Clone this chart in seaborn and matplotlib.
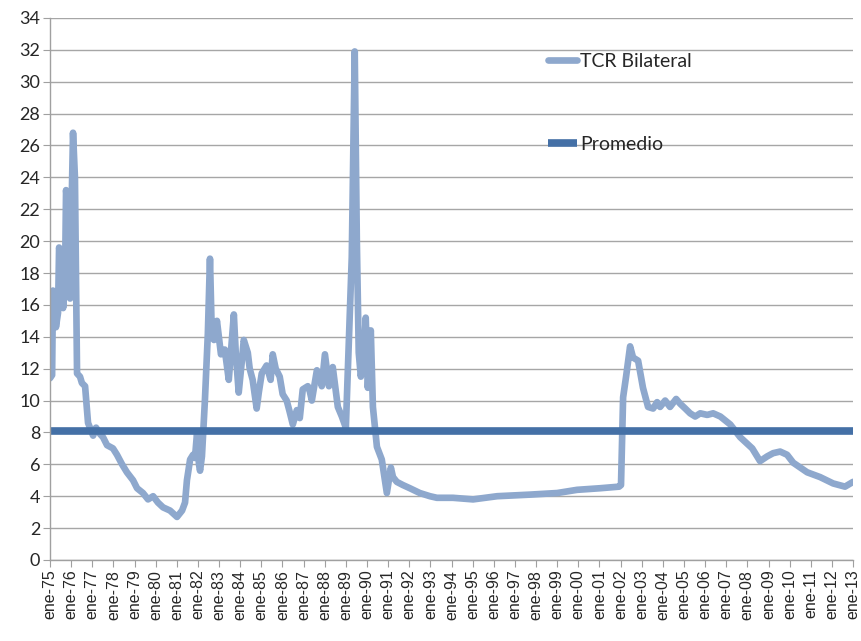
import numpy as np
import pandas as pd
import matplotlib
matplotlib.use("Agg")
import matplotlib.pyplot as plt
import seaborn as sns

anio = [1975.00, 1975.10, 1975.14, 1975.24, 1975.28, 1975.38, 1975.43, 1975.52,
        1975.62, 1975.71, 1975.76, 1975.85, 1975.95, 1975.99, 1976.09, 1976.18,
        1976.28, 1976.42, 1976.51, 1976.66, 1976.80, 1977.04, 1977.18, 1977.37,
        1977.51, 1977.70, 1977.98, 1978.17, 1978.41, 1978.64, 1978.93, 1979.12,
        1979.40, 1979.64, 1979.88, 1980.11, 1980.35, 1980.68, 1981.01, 1981.25,
        1981.39, 1981.48, 1981.63, 1981.77, 1981.86, 1981.96, 1982.05, 1982.10,
        1982.19, 1982.33, 1982.47, 1982.57, 1982.66, 1982.76, 1982.90, 1982.99,
        1983.09, 1983.27, 1983.46, 1983.56, 1983.70, 1983.79, 1983.93, 1984.08,
        1984.17, 1984.36, 1984.45, 1984.59, 1984.78, 1984.88, 1985.02, 1985.25,
        1985.44, 1985.54, 1985.68, 1985.87, 1986.01, 1986.20, 1986.34, 1986.49,
        1986.68, 1986.82, 1986.96, 1987.20, 1987.29, 1987.39, 1987.63, 1987.77,
        1987.86, 1988.01, 1988.20, 1988.38, 1988.62, 1988.81, 1989.00, 1989.19,
        1989.28, 1989.42, 1989.52, 1989.61, 1989.71, 1989.85, 1989.94, 1990.04,
        1990.18, 1990.28, 1990.47, 1990.70, 1990.85, 1990.94, 1991.13, 1991.23,
        1991.41, 1991.70, 1992.03, 1992.50, 1992.98, 1993.31, 1994.07, 1995.02,
        1996.16, 1997.72, 1999.00, 1999.94, 2001.03, 2001.93, 2002.02, 2002.12,
        2002.26, 2002.45, 2002.59, 2002.83, 2003.06, 2003.30, 2003.54, 2003.73,
        2003.87, 2004.11, 2004.34, 2004.63, 2004.82, 2005.06, 2005.29, 2005.53,
        2005.77, 2006.10, 2006.38, 2006.72, 2007.19, 2007.66, 2008.23, 2008.60,
        2008.94, 2009.22, 2009.55, 2009.88, 2010.17, 2010.50, 2010.83, 2011.44,
        2012.06, 2012.62, 2013.00]
tcr = [11.4, 11.6, 16.9, 16.5, 14.6, 15.5, 19.6, 19.0,
       15.8, 17.5, 23.2, 22.0, 16.4, 20.0, 26.8, 24.0,
       11.7, 11.5, 11.1, 10.9, 8.6, 7.8, 8.3, 7.9,
       7.7, 7.2, 7.0, 6.6, 6.0, 5.5, 5.0, 4.5,
       4.2, 3.8, 4.0, 3.6, 3.3, 3.1, 2.7, 3.1,
       3.6, 5.0, 6.3, 6.6, 6.4, 8.0, 6.0, 5.6,
       6.5, 10.0, 14.2, 18.9, 14.0, 13.8, 15.0, 14.0,
       12.9, 13.2, 11.3, 13.0, 15.4, 13.0, 10.5, 12.5,
       13.8, 13.0, 12.0, 11.3, 9.5, 10.5, 11.7, 12.2,
       11.3, 12.9, 12.0, 11.5, 10.4, 10.0, 9.3, 8.5,
       9.4, 8.9, 10.7, 10.9, 10.6, 10.0, 11.9, 11.5,
       10.9, 12.9, 10.9, 12.1, 9.6, 9.0, 8.3, 15.5,
       19.0, 31.9, 20.0, 13.0, 11.5, 13.0, 15.2, 10.8,
       14.4, 9.6, 7.1, 6.3, 5.0, 4.2, 5.8, 5.2,
       4.9, 4.7, 4.5, 4.2, 4.0, 3.9, 3.9, 3.8,
       4.0, 4.1, 4.2, 4.4, 4.5, 4.6, 4.7, 10.2,
       11.5, 13.4, 12.7, 12.5, 10.8, 9.6, 9.5, 9.9,
       9.6, 10.0, 9.6, 10.1, 9.8, 9.5, 9.2, 9.0,
       9.2, 9.1, 9.2, 9.0, 8.5, 7.7, 7.0, 6.2,
       6.5, 6.7, 6.8, 6.6, 6.1, 5.8, 5.5, 5.2,
       4.8, 4.6, 4.9]
promedio = 8.1
anios_eje = list(range(1975, 2014))
etiquetas = ["ene-%02d" % (a % 100) for a in anios_eje]
y_ticks = list(range(0, 35, 2))

df = pd.DataFrame({"anio": anio, "tcr": tcr})
df_prom = pd.DataFrame({"anio": [anios_eje[0], anios_eje[-1]], "valor": [promedio, promedio]})

sns.set_style("white")
plt.rcParams["font.family"] = ["Lato", "DejaVu Sans"]

fig = plt.figure(figsize=(8.62, 6.41), dpi=100)
ax = fig.add_axes([0.058, 0.1264, 0.9316, 0.8456])

sns.lineplot(data=df, x="anio", y="tcr", color="#8EA8CD", lw=4.8,
             solid_capstyle="round", solid_joinstyle="round",
             label="TCR Bilateral", ax=ax, estimator=None)
sns.lineplot(data=df_prom, x="anio", y="valor", color="#4470A6", lw=5.5,
             solid_capstyle="butt", label="Promedio", ax=ax, estimator=None)

ax.set_xlim(anios_eje[0], anios_eje[-1])
ax.set_ylim(0, 34)
ax.set_yticks(y_ticks)
ax.set_xticks(anios_eje)
ax.set_xticklabels(etiquetas, rotation=90, family=["Liberation Sans", "DejaVu Sans"], fontsize=11.5)
ax.tick_params(axis="y", labelsize=13, length=5, color="#a0a0a0", direction="out", left=True, pad=2)
ax.tick_params(axis="x", length=5, color="#a0a0a0", direction="out", bottom=True, pad=2)
ax.set_xlabel("")
ax.set_ylabel("")

ax.grid(axis="y", color="#a6a6a6", lw=1)
ax.set_axisbelow(True)
for s in ["top", "right"]:
    ax.spines[s].set_visible(False)
for s in ["left", "bottom"]:
    ax.spines[s].set_color("#a0a0a0")
    ax.spines[s].set_linewidth(1)

leg = ax.legend(loc="upper left", bbox_to_anchor=(0.598, 0.968), frameon=False,
                fontsize=14, labelspacing=3.4, handlelength=1.5, handletextpad=0.15)

fig.savefig("out.png", dpi=100)
